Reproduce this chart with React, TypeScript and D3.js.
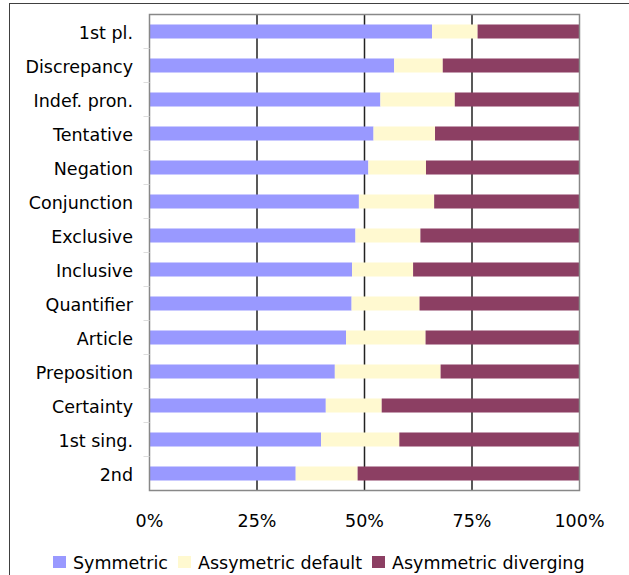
import React, { useRef, useEffect } from 'react';
import * as d3 from 'd3';

const categories = [
  '1st pl.', 'Discrepancy', 'Indef. pron.', 'Tentative', 'Negation', 'Conjunction',
  'Exclusive', 'Inclusive', 'Quantifier', 'Article', 'Preposition', 'Certainty',
  '1st sing.', '2nd',
];
const symmetric = [65.7, 56.9, 53.7, 52.1, 50.9, 48.7, 47.9, 47.1, 47.0, 45.7, 43.1, 41.0, 39.9, 34.0];
const assyDefault = [10.6, 11.3, 17.3, 14.3, 13.4, 17.5, 15.1, 14.2, 15.8, 18.5, 24.6, 13.0, 18.2, 14.4];
const asymDiverging = [23.7, 31.8, 29.0, 33.6, 35.7, 33.8, 37.0, 38.7, 37.2, 35.8, 32.3, 46.0, 41.9, 51.6];
const seriesNames = ['Symmetric', 'Assymetric default', 'Asymmetric diverging'];
const colors = ['#9999FF', '#FFF9D0', '#8C3F63'];
const ticks = [0, 25, 50, 75, 100];

const App = () => {
  const svgRef = useRef<SVGSVGElement>(null);

  useEffect(() => {
    const svg = d3.select(svgRef.current);
    svg.selectAll('*').remove();
    const font = 'DejaVu Sans, Verdana, sans-serif';
    const fs = 17.5;
    const margin = { left: 149.5, top: 14.5, right: 579.5, bottom: 490.5 };

    // outer chart frame
    svg.append('rect')
      .attr('x', 9.5).attr('y', 3.5).attr('width', 700).attr('height', 700)
      .attr('fill', 'white').attr('stroke', '#404040').attr('stroke-width', 1);

    const x = d3.scaleLinear().domain([0, 100]).range([margin.left, margin.right]);
    const y = d3.scaleBand().domain(categories)
      .range([margin.top, margin.bottom])
      .paddingInner(0.588).paddingOuter(0.294);

    const rows = categories.map((c, i) => ({
      cat: c,
      vals: [symmetric[i], assyDefault[i], asymDiverging[i]],
    }));

    // gridlines
    svg.append('g').selectAll('line')
      .data(ticks.slice(1, -1))
      .join('line')
      .attr('x1', d => x(d)).attr('x2', d => x(d))
      .attr('y1', margin.top).attr('y2', margin.bottom)
      .attr('stroke', '#222').attr('stroke-width', 1.5);

    // bars
    const g = svg.append('g');
    rows.forEach(r => {
      let acc = 0;
      r.vals.forEach((v, k) => {
        g.append('rect')
          .attr('x', x(acc))
          .attr('y', y(r.cat)!)
          .attr('width', x(acc + v) - x(acc))
          .attr('height', y.bandwidth())
          .attr('fill', colors[k]);
        acc += v;
      });
    });

    // plot border
    svg.append('rect')
      .attr('x', margin.left).attr('y', margin.top)
      .attr('width', margin.right - margin.left).attr('height', margin.bottom - margin.top)
      .attr('fill', 'none').attr('stroke', '#888').attr('stroke-width', 1.5);

    // category ticks
    svg.append('g').selectAll('line')
      .data(categories.slice(1))
      .join('line')
      .attr('x1', margin.left - 6).attr('x2', margin.left)
      .attr('y1', d => y(d)! - (y.step() - y.bandwidth()) / 2)
      .attr('y2', d => y(d)! - (y.step() - y.bandwidth()) / 2)
      .attr('stroke', '#ddd');

    // category labels
    svg.append('g').selectAll('text')
      .data(categories)
      .join('text')
      .attr('x', 133)
      .attr('y', d => y(d)! + y.bandwidth() / 2)
      .attr('dy', '0.4em')
      .attr('text-anchor', 'end')
      .attr('font-family', font).attr('font-size', fs)
      .attr('fill', '#000')
      .text(d => d);

    // x tick labels
    svg.append('g').selectAll('text')
      .data(ticks)
      .join('text')
      .attr('x', d => x(d))
      .attr('y', 527)
      .attr('text-anchor', 'middle')
      .attr('font-family', font).attr('font-size', fs)
      .text(d => `${d}%`);

    // legend
    const legendX = [53, 178, 372];
    const lg = svg.append('g');
    seriesNames.forEach((name, k) => {
      lg.append('rect')
        .attr('x', legendX[k]).attr('y', 556)
        .attr('width', 13).attr('height', 12)
        .attr('fill', colors[k]);
      lg.append('text')
        .attr('x', legendX[k] + 20).attr('y', 569)
        .attr('font-family', font).attr('font-size', fs)
        .text(name);
    });
  }, []);

  return (
    <svg ref={svgRef} width={629} height={575}
      style={{ position: 'absolute', left: 0, top: 0, background: 'white' }} />
  );
};

export default App;
